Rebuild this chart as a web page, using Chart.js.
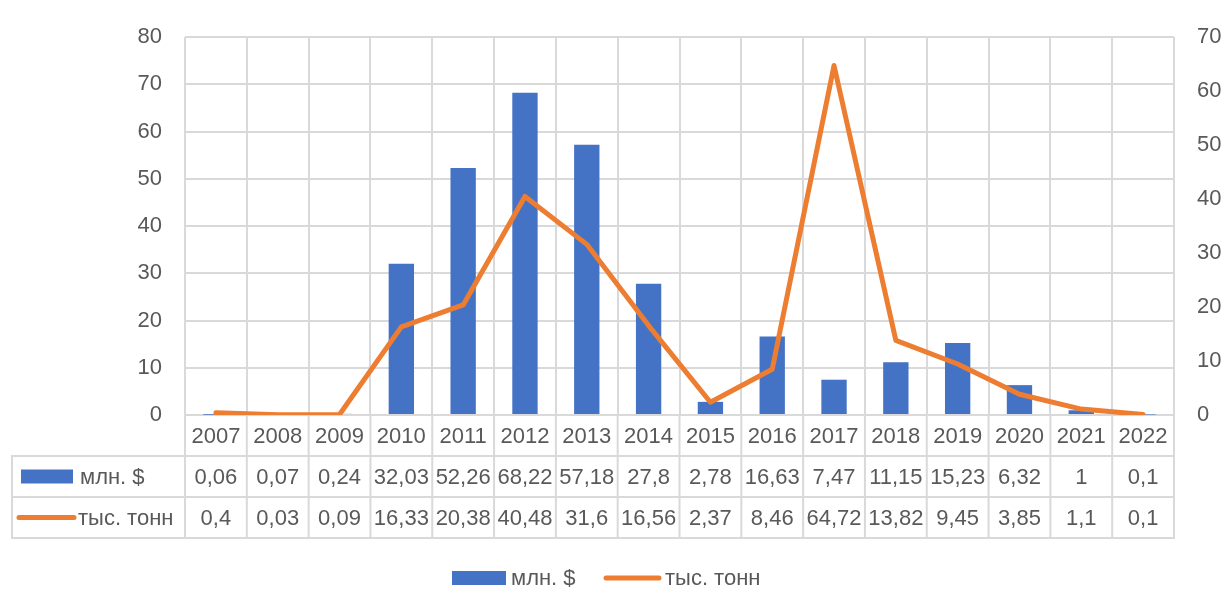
<!DOCTYPE html>
<html>
<head>
<meta charset="utf-8">
<script src="https://cdn.jsdelivr.net/npm/chart.js@4"></script>
<style>
  html, body { margin: 0; padding: 0; background: #fff; }
  #wrap { width: 1229px; height: 603px; position: relative; }
</style>
</head>
<body>
<div id="wrap"><canvas id="chart" width="1229" height="603"></canvas></div>
<script>
// === Data ===
const years = ["2007", "2008", "2009", "2010", "2011", "2012", "2013", "2014", "2015", "2016", "2017", "2018", "2019", "2020", "2021", "2022"];
const usdMillions = [0.06, 0.07, 0.24, 32.03, 52.26, 68.22, 57.18, 27.8, 2.78, 16.63, 7.47, 11.15, 15.23, 6.32, 1, 0.1];
const kTonnes = [0.4, 0.03, 0.09, 16.33, 20.38, 40.48, 31.6, 16.56, 2.37, 8.46, 64.72, 13.82, 9.45, 3.85, 1.1, 0.1];
const seriesNames = ["млн. $", "тыс. тонн"];
const leftTicks = [0, 10, 20, 30, 40, 50, 60, 70, 80];
const rightTicks = [0, 10, 20, 30, 40, 50, 60, 70];

const BLUE = "#4472C4";
const ORANGE = "#ED7D31";
const TEXT = "#595959";
const GRID = "#D9D9D9";
const FONT = "'Liberation Sans', Arial, sans-serif";
const FSIZE = 22;

const fmt = v => String(v).replace(".", ",");

// ===== Data table + bottom legend (Excel style) =====
const tablePlugin = {
  id: "dataTable",
  afterDraw(chart) {
    const ctx = chart.ctx;
    const x = chart.scales.x;
    const area = chart.chartArea;
    const rowH = 41;
    const tableLeft = 12;
    const top = area.bottom;
    const bottom = top + rowH * 3;
    const half = (x.getPixelForValue(1) - x.getPixelForValue(0)) / 2;

    ctx.save();
    ctx.strokeStyle = GRID;
    ctx.lineWidth = 2;

    // vertical lines through the table
    ctx.beginPath();
    for (let i = 0; i <= years.length; i++) {
      const px = x.getPixelForValue(i) - half;
      ctx.moveTo(px, top);
      ctx.lineTo(px, bottom);
    }
    ctx.moveTo(tableLeft, top + rowH);
    ctx.lineTo(tableLeft, bottom);
    // horizontal lines
    for (let r = 1; r <= 3; r++) {
      const py = top + rowH * r;
      ctx.moveTo(tableLeft - 1, py);
      ctx.lineTo(area.right + 1, py);
    }
    ctx.stroke();

    // cell text
    ctx.fillStyle = TEXT;
    ctx.font = FSIZE + "px " + FONT;
    ctx.textAlign = "center";
    ctx.textBaseline = "middle";
    years.forEach((yr, i) => {
      const px = x.getPixelForValue(i);
      ctx.fillText(yr, px, top + rowH * 0.5 + 1);
      ctx.fillText(fmt(usdMillions[i]), px, top + rowH * 1.5 + 1);
      ctx.fillText(fmt(kTonnes[i]), px, top + rowH * 2.5 + 1);
    });

    // legend keys inside table
    ctx.textAlign = "left";
    ctx.fillStyle = BLUE;
    ctx.fillRect(21, top + rowH * 1.5 - 7, 52, 14);
    ctx.fillStyle = TEXT;
    ctx.fillText(seriesNames[0], 80, top + rowH * 1.5 + 1);
    ctx.strokeStyle = ORANGE;
    ctx.lineWidth = 5;
    ctx.lineCap = "round";
    ctx.beginPath();
    ctx.moveTo(19, top + rowH * 2.5);
    ctx.lineTo(74, top + rowH * 2.5);
    ctx.stroke();
    ctx.fillText(seriesNames[1], 78, top + rowH * 2.5 + 1);

    // bottom legend
    const ly = 578;
    ctx.fillStyle = BLUE;
    ctx.fillRect(452, ly - 7, 54, 14);
    ctx.fillStyle = TEXT;
    ctx.fillText(seriesNames[0], 511, ly + 1);
    ctx.beginPath();
    ctx.moveTo(606, ly);
    ctx.lineTo(659, ly);
    ctx.stroke();
    ctx.fillText(seriesNames[1], 665, ly + 1);
    ctx.restore();
  }
};

document.addEventListener("DOMContentLoaded", () => {
  new Chart(document.getElementById("chart"), {
    data: {
      labels: years,
      datasets: [
        {
          type: "line",
          label: seriesNames[1],
          data: kTonnes,
          yAxisID: "y1",
          borderColor: ORANGE,
          borderWidth: 5,
          borderCapStyle: "round",
          borderJoinStyle: "round",
          pointRadius: 0,
          tension: 0,
          order: 0
        },
        {
          type: "bar",
          label: seriesNames[0],
          data: usdMillions,
          yAxisID: "y",
          backgroundColor: BLUE,
          barPercentage: 0.41,
          categoryPercentage: 1,
          order: 1
        }
      ]
    },
    options: {
      responsive: false,
      animation: false,
      layout: { padding: { top: 37, bottom: 188, left: 0, right: 0 } },
      plugins: {
        legend: { display: false },
        tooltip: { enabled: false }
      },
      scales: {
        x: {
          offset: true,
          grid: { offset: true, color: GRID, lineWidth: 2, drawTicks: false },
          border: { display: false },
          ticks: { display: false },
          afterFit: s => { s.height = 0; }
        },
        y: {
          position: "left",
          min: 0,
          max: 80,
          afterBuildTicks: s => { s.ticks = leftTicks.map(v => ({ value: v })); },
          grid: { color: GRID, lineWidth: 2, drawTicks: false },
          border: { display: false },
          ticks: { color: TEXT, font: { family: FONT, size: FSIZE }, padding: 23 },
          afterFit: s => { s.width = 185; }
        },
        y1: {
          position: "right",
          min: 0,
          max: 70,
          afterBuildTicks: s => { s.ticks = rightTicks.map(v => ({ value: v })); },
          grid: { display: false, drawTicks: false },
          border: { display: false },
          ticks: { color: TEXT, font: { family: FONT, size: FSIZE }, padding: 23 },
          afterFit: s => { s.width = 55; }
        }
      }
    },
    plugins: [tablePlugin]
  });
});
</script>
</body>
</html>
